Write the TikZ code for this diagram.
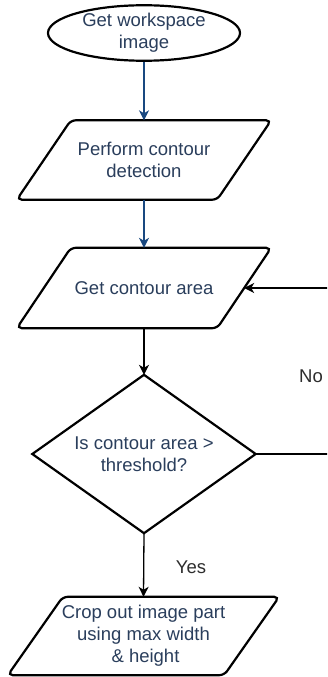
\documentclass[tikz,border=0pt]{standalone}
\usepackage{fontspec}
\setmainfont{Liberation Sans}
\usetikzlibrary{arrows.meta,shapes.geometric}
\definecolor{txt}{RGB}{42,62,92}
\definecolor{flowblue}{RGB}{25,72,128}
\definecolor{lbl}{RGB}{45,45,45}
\begin{document}
\begin{tikzpicture}[x=1pt,y=-1pt,
  font=\fontsize{18.5}{22}\selectfont,
  box/.style={inner sep=0pt, text=txt, align=center},
  outline/.style={draw=black, line width=2.2pt, rounded corners=5pt},
  flow/.style={line width=1.3pt, -{Stealth[length=10pt,width=10pt,inset=3pt]}},
  lab/.style={text=lbl, inner sep=0pt}
  ]
\clip (0,0) rectangle (327,677);
\fill[white] (0,0) rectangle (327,677);

% start
\node[box, ellipse, draw=black, line width=2.2pt, minimum width=192pt, minimum height=50pt] (e) at (144,33) {Get workspace\\image};

% parallelogram 1
\node[box, minimum width=200pt, minimum height=79pt] (p1) at (144,160) {Perform contour\\detection};
\draw[outline] ([xshift=27pt]p1.north west) -- ([xshift=27pt]p1.north east) -- ([xshift=-27pt]p1.south east) -- ([xshift=-27pt]p1.south west) -- cycle;

% parallelogram 2
\node[box, minimum width=200pt, minimum height=80pt] (p2) at (144,288) {Get contour area};
\draw[outline] ([xshift=27pt]p2.north west) -- ([xshift=27pt]p2.north east) -- ([xshift=-27pt]p2.south east) -- ([xshift=-27pt]p2.south west) -- cycle;

% decision
\node[box, minimum width=223pt, minimum height=158pt] (d) at (144,454) {Is contour area >\\threshold?};
\draw[draw=black, line width=2.2pt] (d.north) -- (d.east) -- (d.south) -- (d.west) -- cycle;

% parallelogram 3
\node[box, minimum width=216pt, minimum height=78pt] (p3) at (143.5,636) {Crop out image part\\using max width\\\hspace*{4pt}\& height};
\draw[outline] ([xshift=27.5pt]p3.north west) -- ([xshift=27.5pt]p3.north east) -- ([xshift=-27.5pt]p3.south east) -- ([xshift=-27.5pt]p3.south west) -- cycle;

% connectors
\draw[flow, flowblue] (e.south) -- (p1.north);
\draw[flow, flowblue] (p1.south) -- (p2.north);
\draw[flow, black] (p2.south) -- (d.north);
\draw[flow, black] (d.south) -- (p3.north);
\coordinate (loop) at (345,454);
\draw[flow, black] (d.east) -- (loop) |- (p2.east);

% labels
\node[lab] (yes) at (191,567) {Yes};
\node[lab] (no) at (311,376) {No};
\end{tikzpicture}
\end{document}
